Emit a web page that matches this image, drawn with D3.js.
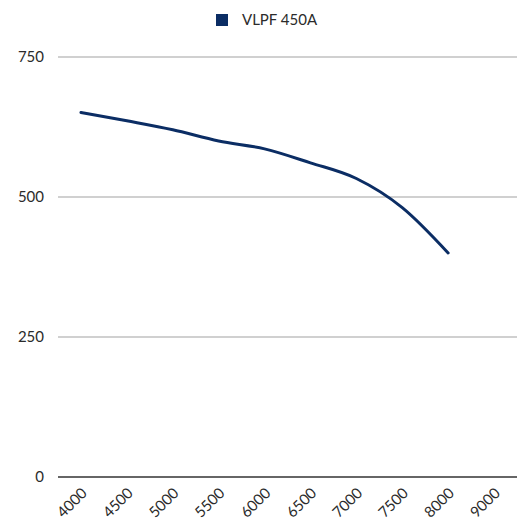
<!DOCTYPE html>
<html>
<head>
<meta charset="utf-8">
<script src="https://d3js.org/d3.v7.min.js"></script>
<style>
  body { margin: 0; background: #fff; }
  text { font-family: Lato, "Open Sans", sans-serif; fill: #2b2b2b; }
</style>
</head>
<body>
<svg width="517" height="528"></svg>
<script>
const categories = ['4000', '4500', '5000', '5500', '6000', '6500', '7000', '7500', '8000', '9000'];
const seriesName = 'VLPF 450A';
const values = [651, 636, 620, 600, 586, 561, 533, 481, 400];
const yTicks = [0, 250, 500, 750];

const svg = d3.select('svg');
const plotLeft = 58, plotRight = 517, plotTop = 57, plotBottom = 477;

const x = d3.scaleBand().domain(categories).range([plotLeft, plotRight]);
const y = d3.scaleLinear().domain([0, 750]).range([plotBottom, plotTop]);

// grid
svg.append('g')
  .selectAll('line')
  .data(yTicks.filter(d => d > 0))
  .enter().append('line')
  .attr('x1', plotLeft).attr('x2', plotRight)
  .attr('y1', d => y(d)).attr('y2', d => y(d))
  .attr('stroke', '#c0c0c0').attr('stroke-width', 1.5);

svg.append('line')
  .attr('x1', plotLeft).attr('x2', plotRight)
  .attr('y1', y(0)).attr('y2', y(0))
  .attr('stroke', '#666').attr('stroke-width', 2);

// y labels
svg.append('g')
  .selectAll('text')
  .data(yTicks)
  .enter().append('text')
  .attr('x', 44)
  .attr('y', d => y(d) + 5)
  .attr('text-anchor', 'end')
  .attr('font-size', 15)
  .text(d => d);

// x labels
svg.append('g')
  .selectAll('text')
  .data(categories)
  .enter().append('text')
  .attr('text-anchor', 'end')
  .attr('font-size', 15)
  .attr('transform', d => `translate(${x(d) + x.bandwidth() / 2 + 7}, ${plotBottom + 17}) rotate(-45)`)
  .text(d => d);

// line
const line = d3.line()
  .x((d, i) => x(categories[i]) + x.bandwidth() / 2)
  .y(d => y(d))
  .curve(d3.curveMonotoneX);

svg.append('path')
  .datum(values)
  .attr('d', line)
  .attr('fill', 'none')
  .attr('stroke', '#0b2d64')
  .attr('stroke-width', 3)
  .attr('stroke-linecap', 'round');

// legend
svg.append('rect')
  .attr('x', 216).attr('y', 14)
  .attr('width', 12).attr('height', 12)
  .attr('fill', '#0b2d64');
svg.append('text')
  .attr('x', 242).attr('y', 25)
  .attr('font-size', 15)
  .text(seriesName);
</script>
</body>
</html>
